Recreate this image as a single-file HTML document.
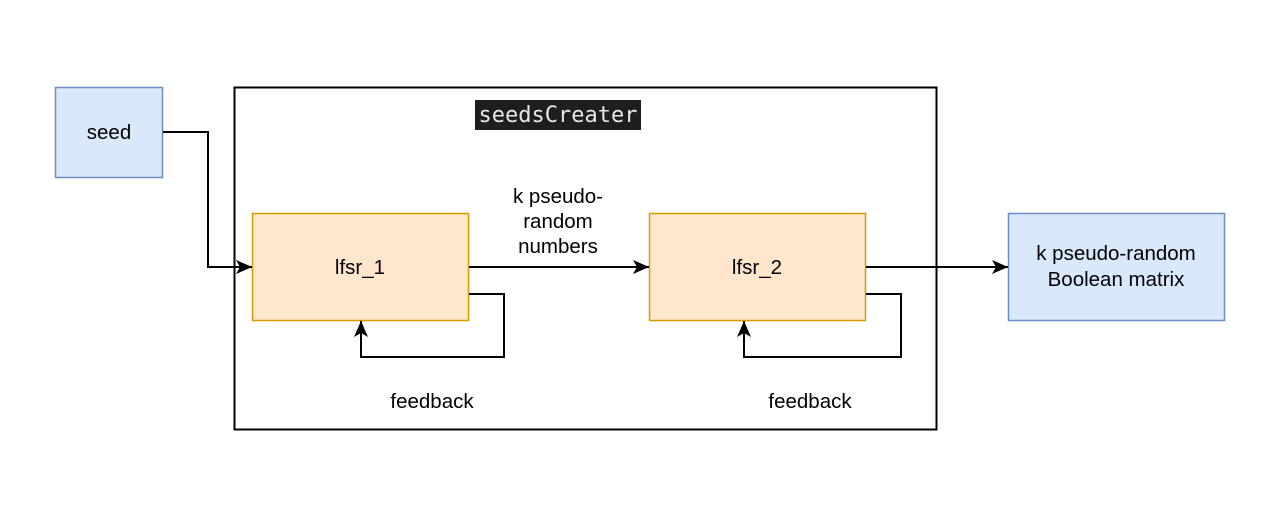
<!DOCTYPE html>
<html><head><meta charset="utf-8"><style>
html,body{margin:0;padding:0;background:#fff;width:1266px;height:524px;overflow:hidden}
text{font-family:"Liberation Sans",sans-serif;font-size:20.5px;fill:#000}
</style></head><body>
<svg width="1266" height="524" xmlns="http://www.w3.org/2000/svg">
<defs>
<marker id="a" markerWidth="17" markerHeight="15" refX="16" refY="7" orient="auto" markerUnits="userSpaceOnUse">
<path d="M0,0 L16,7 L0,14 L4,7 Z" fill="#000"/>
</marker>
</defs>
<rect x="234.5" y="87.5" width="702" height="342" fill="#fff" stroke="#000" stroke-width="2"/>
<rect x="475" y="100" width="166" height="30" fill="#1e1e1e"/>
<text x="558" y="122" text-anchor="middle" style="font-family:'DejaVu Sans Mono','Liberation Mono',monospace;font-size:22px;fill:#e8e8e8">seedsCreater</text>
<rect x="55.5" y="87.5" width="107" height="90" fill="#dae8fc" stroke="#6c8ebf" stroke-width="1.5"/>
<text x="109" y="139" text-anchor="middle">seed</text>
<rect x="252.5" y="213.5" width="216" height="107" fill="#ffe6cc" stroke="#d79b00" stroke-width="1.5"/>
<text x="360" y="274" text-anchor="middle">lfsr_1</text>
<rect x="649.5" y="213.5" width="216" height="107" fill="#ffe6cc" stroke="#d79b00" stroke-width="1.5"/>
<text x="757" y="274" text-anchor="middle">lfsr_2</text>
<rect x="1008.5" y="213.5" width="216" height="107" fill="#dae8fc" stroke="#6c8ebf" stroke-width="1.5"/>
<text x="1116" y="260" text-anchor="middle">k pseudo-random</text>
<text x="1116" y="286" text-anchor="middle">Boolean matrix</text>
<g fill="none" stroke="#000" stroke-width="2">
<path d="M163,132 H208 V267 H252" marker-end="url(#a)"/>
<path d="M469,267 H649" marker-end="url(#a)"/>
<path d="M866,267 H1008" marker-end="url(#a)"/>
<path d="M469,294 H504 V357 H361 V321" marker-end="url(#a)"/>
<path d="M866,294 H901 V357 H744 V321" marker-end="url(#a)"/>
</g>
<text x="558" y="203" text-anchor="middle">k pseudo-</text>
<text x="558" y="228" text-anchor="middle">random</text>
<text x="558" y="253" text-anchor="middle">numbers</text>
<text x="432" y="408" text-anchor="middle">feedback</text>
<text x="810" y="408" text-anchor="middle">feedback</text>
</svg>
</body></html>
